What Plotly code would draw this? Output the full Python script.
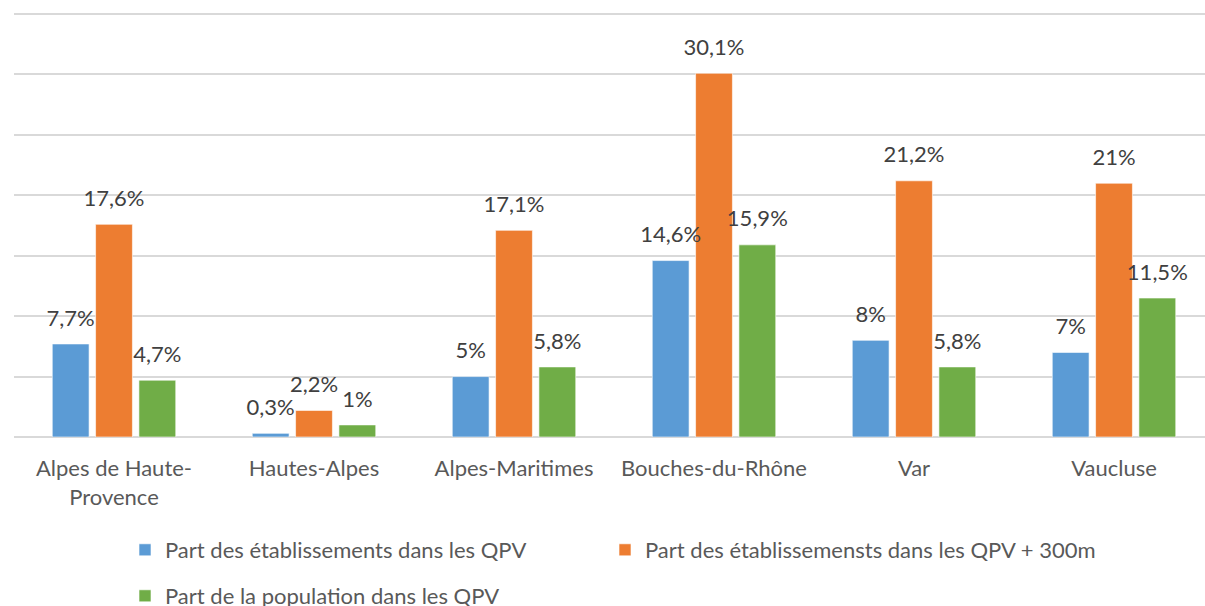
import plotly.graph_objects as go

categories = ["Alpes de Haute-<br>Provence", "Hautes-Alpes", "Alpes-Maritimes",
              "Bouches-du-Rhône", "Var", "Vaucluse"]
series_names = ["Part des établissements dans les QPV",
                "Part des établissemensts dans les QPV + 300m",
                "Part de la population dans les QPV"]
etab_qpv = [7.7, 0.3, 5, 14.6, 8, 7]
etab_qpv_300 = [17.6, 2.2, 17.1, 30.1, 21.2, 21]
pop_qpv = [4.7, 1, 5.8, 15.9, 5.8, 11.5]
colors = ["#5b9bd5", "#ed7d31", "#70ad47"]

FONT = "Lato, 'Open Sans', sans-serif"
FS = 22
W, H = 1205, 606
ML, MT, MB = 14, 8, 169
PH = H - MT - MB

def fmt(v):
    s = ("%g" % v).replace(".", ",")
    return s + "%"

x_idx = list(range(len(categories)))
legend_ids = ["legend", "legend2", "legend3"]
fig = go.Figure()
for i, (name, vals) in enumerate(zip(series_names, [etab_qpv, etab_qpv_300, pop_qpv])):
    fig.add_trace(go.Bar(
        x=x_idx, y=vals, name=name,
        marker=dict(color=colors[i], line=dict(color="rgba(255,255,255,0.6)", width=1)),
        legend=legend_ids[i],
        hoverinfo="y",
    ))
# value labels, grouped like the bars
for i, vals in enumerate([etab_qpv, etab_qpv_300, pop_qpv]):
    fig.add_trace(go.Scatter(
        x=x_idx, y=vals, mode="markers+text", text=[fmt(v) for v in vals],
        textposition="top center",
        textfont=dict(family=FONT, size=FS, color="#404040"),
        marker=dict(size=19, color="rgba(0,0,0,0)"),
        cliponaxis=False, showlegend=False, hoverinfo="skip",
    ))

def leg(px_x, px_y):
    return dict(orientation="h", x=(px_x - ML) / (W - ML), xanchor="left",
                y=-(px_y - (H - MB)) / PH, yanchor="middle",
                font=dict(family=FONT, size=FS, color="#595959"),
                itemwidth=30, bgcolor="rgba(0,0,0,0)")

fig.update_layout(
    width=W, height=H,
    margin=dict(l=ML, r=0, t=MT, b=MB, autoexpand=False),
    paper_bgcolor="white", plot_bgcolor="white",
    barmode="group", bargap=0.35, bargroupgap=0.15,
    scattermode="group", scattergap=0.35,
    font=dict(family=FONT, size=FS, color="#595959"),
    xaxis=dict(range=[-0.5, 5.455], tickmode="array",
               tickvals=x_idx, ticktext=categories,
               showgrid=False, zeroline=False, showline=False, ticks="",
               ticklabelstandoff=16, automargin=False,
               tickfont=dict(family=FONT, size=FS, color="#595959")),
    yaxis=dict(range=[0, 35.5], tickmode="array", tickvals=[0, 5, 10, 15, 20, 25, 30, 35],
               showticklabels=False, showgrid=True,
               gridcolor="#d9d9d9", gridwidth=1.5, zeroline=True,
               zerolinecolor="#d9d9d9", zerolinewidth=1.5, ticks="", automargin=False),
    legend=leg(125, 550),
    legend2=leg(605, 550),
    legend3=leg(125, 596),
    showlegend=True,
)

fig.write_html("out.html", config={"displayModeBar": False},
               post_script="document.body.style.margin='0';document.body.style.overflow='hidden';")
